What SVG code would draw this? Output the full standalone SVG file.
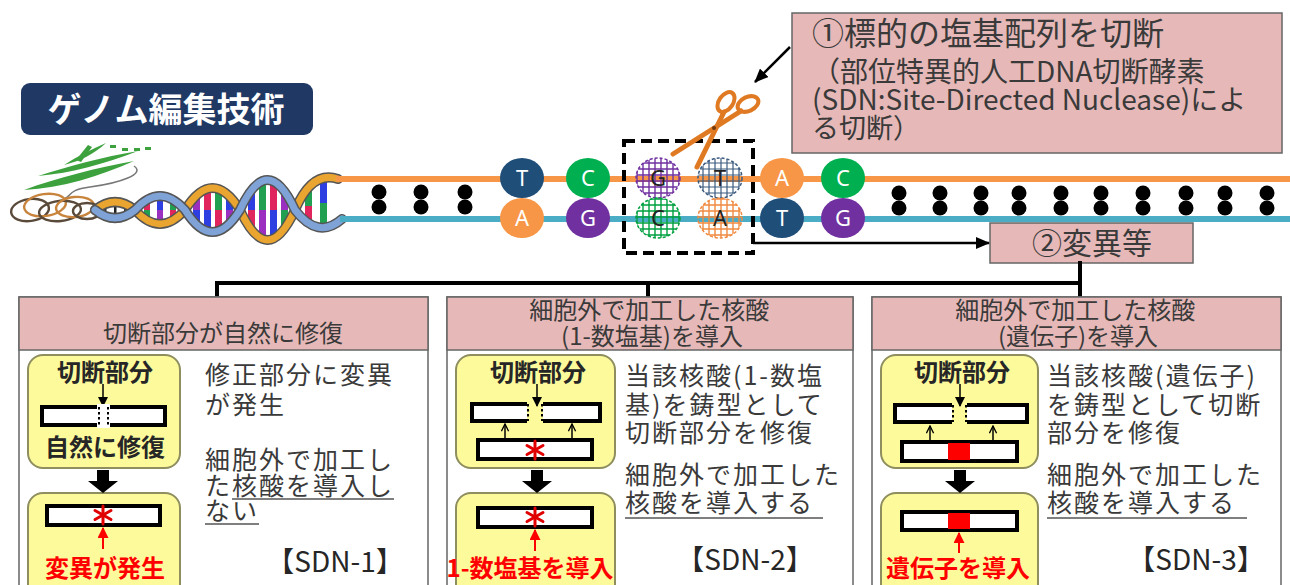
<svg xmlns="http://www.w3.org/2000/svg" width="1290" height="585" viewBox="0 0 1290 585">
  <style>
    .jp { font-family: "Noto Sans CJK JP", "Noto Sans", sans-serif; }
    .pink { fill: #E6B9B8; stroke: #666; stroke-width: 1.5; }
    .panel { fill: #fff; stroke: #666; stroke-width: 1.5; }
    .yel { fill: #FDFA9C; stroke: #8E8E5E; stroke-width: 2; }
    .bar { fill: #fff; stroke: #000; stroke-width: 4; }
    .body { font-size: 25px; letter-spacing: 2px; fill: #3a3a3a; }
    .hdr { font-size: 24px; fill: #3a3a3a; text-anchor: middle; }
    .lbl { font-size: 24px; font-weight: bold; fill: #262626; text-anchor: middle; }
    .redlbl { font-size: 24px; font-weight: bold; fill: #FF0000; text-anchor: middle; }
    .sdn { font-size: 28px; fill: #262626; text-anchor: middle; }
    .conn { stroke: #000; fill: none; }
    .ul { stroke: #555; stroke-width: 1.5; }
    .base { font-family: "Noto Sans", "Open Sans", sans-serif; font-size: 22px; text-anchor: middle; }
    .dot { fill: #000; }
    .ast line { stroke: #E00000; stroke-width: 3; stroke-linecap: round; }
    .thin { stroke: #000; stroke-width: 1.5; fill: none; }
    .dotted { stroke: #000; stroke-width: 2; stroke-dasharray: 2.5 2.5; }
  </style>
  <defs>
    <marker id="ah" viewBox="0 0 14 12" refX="13" refY="6" markerWidth="14" markerHeight="12" markerUnits="userSpaceOnUse" orient="auto">
      <path d="M0,0 L14,6 L0,12 Z" fill="#000"/>
    </marker>
    <marker id="ahs" viewBox="0 0 10 10" refX="9" refY="5" markerWidth="10" markerHeight="10" markerUnits="userSpaceOnUse" orient="auto">
      <path d="M0,0 L10,5 L0,10 Z" fill="#000"/>
    </marker>
    <marker id="aho" viewBox="0 0 10 10" refX="9" refY="5" markerWidth="9" markerHeight="9" markerUnits="userSpaceOnUse" orient="auto">
      <path d="M1,1 L9,5 L1,9" fill="none" stroke="#000" stroke-width="1.5"/>
    </marker>
    <marker id="ahr" viewBox="0 0 10 10" refX="9" refY="5" markerWidth="11" markerHeight="11" markerUnits="userSpaceOnUse" orient="auto">
      <path d="M0,0 L10,5 L0,10 Z" fill="#FF0000"/>
    </marker>
    <pattern id="gridPurple" width="6" height="6" patternUnits="userSpaceOnUse">
      <path d="M0,1 H6 M1,0 V6" stroke="#7030A0" stroke-width="1.4"/>
    </pattern>
    <pattern id="gridNavy" width="6" height="6" patternUnits="userSpaceOnUse">
      <path d="M0,1 H6 M1,0 V6" stroke="#3A5A80" stroke-width="1.2"/>
    </pattern>
    <pattern id="gridGreen" width="6" height="6" patternUnits="userSpaceOnUse">
      <path d="M0,1 H6 M1,0 V6" stroke="#00A040" stroke-width="1.4"/>
    </pattern>
    <pattern id="gridOrange" width="6" height="6" patternUnits="userSpaceOnUse">
      <path d="M0,1 H6 M1,0 V6" stroke="#F08A40" stroke-width="1.4"/>
    </pattern>
    <g id="downArrow">
      <path d="M-6,0 H6 V11 H15 L0,23 L-15,11 H-6 Z" fill="#000"/>
    </g>
    <g id="asterisk" class="ast">
      <line x1="0" y1="-9" x2="0" y2="9"/>
      <line x1="-8" y1="-4.5" x2="8" y2="4.5"/>
      <line x1="-8" y1="4.5" x2="8" y2="-4.5"/>
    </g>
  </defs>

  <rect width="1290" height="585" fill="#fff"/>

  <!-- Title badge -->
  <g id="title">
    <rect x="21" y="83" width="292" height="52" rx="9" fill="#203864"/>
    <text x="166" y="122" class="jp" font-size="34" font-weight="bold" fill="#fff" text-anchor="middle">ゲノム編集技術</text>
  </g>

  <!-- Plant, chromosome coil and double helix -->
  <g id="dna-illustration">
    <g fill="#3DA23D">
      <path d="M24,190 C56,178 96,168 134,161 C100,176 62,188 24,190 Z"/>
      <path d="M38,176 C70,166 102,157 138,151 C104,164 72,173 38,176 Z"/>
      <path d="M64,165 C78,156 92,149 106,143 C94,154 80,161 64,165 Z"/>
      <path d="M76,160 L88,145 L92,147 L81,162 Z"/>
      <rect x="110" y="145" width="6" height="3"/>
      <rect x="122" y="148" width="6" height="3"/>
      <rect x="134" y="148" width="6" height="3"/>
      <rect x="145" y="147" width="6" height="3"/>
    </g>
    <path d="M134,166 C146,174 120,183 90,187 C64,190 74,198 58,201" fill="none" stroke="#777" stroke-width="1.5"/>
    <g fill="none" stroke-width="2.4">
      <ellipse cx="30" cy="210" rx="19" ry="11" stroke="#5a4a3a" transform="rotate(-8 30 210)"/>
      <ellipse cx="45" cy="205" rx="21" ry="11" stroke="#C8843C" transform="rotate(-8 45 205)"/>
      <ellipse cx="60" cy="211" rx="21" ry="10" stroke="#5a4a3a" transform="rotate(-6 60 211)"/>
      <ellipse cx="75" cy="207" rx="19" ry="10" stroke="#C8843C" transform="rotate(-6 75 207)"/>
      <ellipse cx="87" cy="211" rx="14" ry="8" stroke="#5a4a3a"/>
    </g>
    <!-- base pairs -->
    <g>
      <rect x="104" y="204" width="2.5" height="12" fill="#222"/>
      <rect x="114" y="202" width="2.5" height="16" fill="#222"/>
      <rect x="124" y="204" width="2.5" height="12" fill="#222"/>
      <rect x="144" y="200" width="6" height="10" fill="#E0245E"/><rect x="144" y="210" width="6" height="10" fill="#20A050"/>
      <rect x="157" y="196" width="6" height="14" fill="#2D3FE0"/><rect x="157" y="210" width="6" height="14" fill="#9B30C0"/>
      <rect x="170" y="200" width="6" height="10" fill="#20A050"/><rect x="170" y="210" width="6" height="10" fill="#E0245E"/>
      <rect x="193" y="196" width="7" height="14" fill="#9B30C0"/><rect x="193" y="210" width="7" height="14" fill="#2D3FE0"/>
      <rect x="204" y="189" width="7" height="21" fill="#E0245E"/><rect x="204" y="210" width="7" height="21" fill="#2D3FE0"/>
      <rect x="215" y="189" width="7" height="21" fill="#20A050"/><rect x="215" y="210" width="7" height="21" fill="#E0245E"/>
      <rect x="226" y="196" width="7" height="14" fill="#2D3FE0"/><rect x="226" y="210" width="7" height="14" fill="#9B30C0"/>
      <rect x="248" y="191" width="7" height="19" fill="#2D3FE0"/><rect x="248" y="210" width="7" height="19" fill="#E0245E"/>
      <rect x="259" y="181" width="7" height="29" fill="#20A050"/><rect x="259" y="210" width="7" height="29" fill="#9B30C0"/>
      <rect x="270" y="181" width="7" height="29" fill="#E0245E"/><rect x="270" y="210" width="7" height="29" fill="#2D3FE0"/>
      <rect x="281" y="191" width="7" height="19" fill="#9B30C0"/><rect x="281" y="210" width="7" height="19" fill="#20A050"/>
      <rect x="305" y="189" width="7" height="17" fill="#20A050"/><rect x="305" y="206" width="7" height="18" fill="#E0245E"/>
      <rect x="320" y="179" width="7" height="24" fill="#2D3FE0"/><rect x="320" y="203" width="7" height="24" fill="#20A050"/>
    </g>
    <g fill="none" stroke-linecap="round">
      <path d="M95,210 Q115,194 135,210 Q160,238 185,210 Q212.5,166 240,210 Q267.5,270 295,210 Q312,170 338,179" stroke="#555" stroke-width="10"/>
      <path d="M95,210 Q115,194 135,210 Q160,238 185,210 Q212.5,166 240,210 Q267.5,270 295,210 Q312,170 338,179" stroke="#E9A530" stroke-width="7"/>
      <path d="M95,210 Q115,226 135,210 Q160,182 185,210 Q212.5,254 240,210 Q267.5,150 295,210 Q318,240 342,219" stroke="#555" stroke-width="10"/>
      <path d="M95,210 Q115,226 135,210 Q160,182 185,210 Q212.5,254 240,210 Q267.5,150 295,210 Q318,240 342,219" stroke="#7FA3D6" stroke-width="7"/>
    </g>
  </g>

  <!-- DNA strands with bases -->
  <g id="strands">
    <line x1="336" y1="179" x2="1290" y2="179" stroke="#F79646" stroke-width="6"/>
    <line x1="340" y1="219" x2="1290" y2="219" stroke="#4BACC6" stroke-width="6"/>
    <g class="dot">
      <circle cx="379" cy="192" r="7.5"/><circle cx="379" cy="207" r="7.5"/>
      <circle cx="421" cy="192" r="7.5"/><circle cx="421" cy="207" r="7.5"/>
      <circle cx="465" cy="192" r="7.5"/><circle cx="465" cy="207" r="7.5"/>
      <circle cx="899" cy="193" r="7.5"/><circle cx="899" cy="208" r="7.5"/>
      <circle cx="940" cy="193" r="7.5"/><circle cx="940" cy="208" r="7.5"/>
      <circle cx="981" cy="193" r="7.5"/><circle cx="981" cy="208" r="7.5"/>
      <circle cx="1019" cy="193" r="7.5"/><circle cx="1019" cy="208" r="7.5"/>
      <circle cx="1061" cy="193" r="7.5"/><circle cx="1061" cy="208" r="7.5"/>
      <circle cx="1101" cy="193" r="7.5"/><circle cx="1101" cy="208" r="7.5"/>
      <circle cx="1143" cy="193" r="7.5"/><circle cx="1143" cy="208" r="7.5"/>
      <circle cx="1186" cy="193" r="7.5"/><circle cx="1186" cy="208" r="7.5"/>
      <circle cx="1225" cy="193" r="7.5"/><circle cx="1225" cy="208" r="7.5"/>
      <circle cx="1267" cy="193" r="7.5"/><circle cx="1267" cy="208" r="7.5"/>
    </g>
  </g>

  <g id="base-T1"><ellipse cx="522" cy="178" rx="22" ry="20" fill="#1F4E79"/><text x="522" y="186" class="base" fill="#fff">T</text></g>
  <g id="base-C1"><ellipse cx="588" cy="178" rx="22" ry="20" fill="#00B050"/><text x="588" y="186" class="base" fill="#fff">C</text></g>
  <g id="base-G1"><ellipse cx="658" cy="178" rx="22" ry="20" fill="url(#gridPurple)" stroke="#7030A0" stroke-width="1.5" stroke-dasharray="3 2"/><text x="658" y="186" class="base" fill="#222">G</text></g>
  <g id="base-T2"><ellipse cx="720" cy="178" rx="22" ry="20" fill="url(#gridNavy)" stroke="#3A5A80" stroke-width="1.5" stroke-dasharray="3 2"/><text x="720" y="186" class="base" fill="#222">T</text></g>
  <g id="base-A1"><ellipse cx="782" cy="178" rx="22" ry="20" fill="#F79646"/><text x="782" y="186" class="base" fill="#fff">A</text></g>
  <g id="base-C2"><ellipse cx="843" cy="178" rx="22" ry="20" fill="#00B050"/><text x="843" y="186" class="base" fill="#fff">C</text></g>
  <g id="base-A2"><ellipse cx="522" cy="218" rx="22" ry="20" fill="#F79646"/><text x="522" y="226" class="base" fill="#fff">A</text></g>
  <g id="base-G2"><ellipse cx="588" cy="218" rx="22" ry="20" fill="#7030A0"/><text x="588" y="226" class="base" fill="#fff">G</text></g>
  <g id="base-C3"><ellipse cx="658" cy="218" rx="22" ry="20" fill="url(#gridGreen)" stroke="#00A040" stroke-width="1.5" stroke-dasharray="3 2"/><text x="658" y="226" class="base" fill="#222">C</text></g>
  <g id="base-A3"><ellipse cx="720" cy="218" rx="22" ry="20" fill="url(#gridOrange)" stroke="#F08A40" stroke-width="1.5" stroke-dasharray="3 2"/><text x="720" y="226" class="base" fill="#222">A</text></g>
  <g id="base-T3"><ellipse cx="782" cy="218" rx="22" ry="20" fill="#1F4E79"/><text x="782" y="226" class="base" fill="#fff">T</text></g>
  <g id="base-G3"><ellipse cx="843" cy="218" rx="22" ry="20" fill="#7030A0"/><text x="843" y="226" class="base" fill="#fff">G</text></g>

  <!-- Target site -->
  <g id="target-site">
    <rect x="624" y="141" width="129" height="112" fill="none" stroke="#000" stroke-width="4" stroke-dasharray="11 6"/>
  </g>

  <!-- Scissors (nuclease) -->
  <g id="scissors" stroke="#E07A22" fill="none" stroke-linecap="round">
    <ellipse cx="726" cy="102" rx="11" ry="7" stroke-width="4" transform="rotate(-55 726 102)"/>
    <ellipse cx="748" cy="104" rx="11" ry="7" stroke-width="4" transform="rotate(-25 748 104)"/>
    <line x1="741" y1="111" x2="673" y2="154" stroke-width="5"/>
    <line x1="724" y1="112" x2="697" y2="167" stroke-width="5"/>
    <circle cx="714" cy="128" r="2" fill="#6b3a10" stroke="none"/>
  </g>

  <!-- Callouts -->
  <g id="callout-cut">
    <rect x="792" y="13" width="490" height="140" class="pink" stroke-width="2"/>
    <text class="jp" fill="#3a3a3a">
      <tspan x="812" y="45" font-size="32">①標的の塩基配列を切断</tspan>
      <tspan x="812" y="82" font-size="28">（部位特異的人工DNA切断酵素</tspan>
      <tspan x="812" y="110" font-size="28">(SDN:Site-Directed Nuclease)によ</tspan>
      <tspan x="812" y="138" font-size="27">る切断）</tspan>
    </text>
  </g>
  <g id="callout-mutation">
    <rect x="990" y="223" width="203" height="40" class="pink" stroke-width="2"/>
    <text x="1092" y="254" class="jp" font-size="30" fill="#3a3a3a" text-anchor="middle">②変異等</text>
  </g>

  <!-- Connectors -->
  <g id="connectors" class="conn">
    <line x1="790" y1="47" x2="755" y2="82" stroke-width="2.5" marker-end="url(#ah)"/>
    <line x1="753" y1="243" x2="989" y2="243" stroke-width="2.5" marker-end="url(#ah)"/>
    <path d="M1080,263 V297 M217,283 H1080 M217,283 V297 M648,283 V297" stroke-width="4" stroke-linecap="square"/>
  </g>

  <!-- SDN-1 -->
  <g id="panel-sdn1" class="jp">
    <rect x="19" y="297" width="409" height="300" class="panel"/>
    <rect x="19" y="297" width="409" height="53" class="pink"/>
    <text x="223" y="342" class="hdr" font-size="25">切断部分が自然に修復</text>
    <rect x="28" y="355" width="152" height="113" rx="15" class="yel"/>
    <rect x="28" y="493" width="152" height="110" rx="15" class="yel"/>
    <text x="105" y="381" class="lbl">切断部分</text>
    <line x1="103" y1="384" x2="103" y2="406" class="thin" marker-end="url(#ahs)"/>
    <rect x="42" y="407" width="123" height="18" class="bar"/>
    <rect x="97" y="404" width="13" height="24" fill="#fff"/>
    <line x1="99" y1="407" x2="99" y2="425" class="dotted"/>
    <line x1="108" y1="407" x2="108" y2="425" class="dotted"/>
    <text x="105" y="456" class="lbl">自然に修復</text>
    <use href="#downArrow" x="103" y="470"/>
    <rect x="47" y="506" width="113" height="19" class="bar"/>
    <use href="#asterisk" x="103" y="515"/>
    <line x1="103" y1="549" x2="103" y2="528" stroke="#FF0000" stroke-width="2" marker-end="url(#ahr)"/>
    <text x="105" y="577" class="redlbl">変異が発生</text>
    <text class="body">
      <tspan x="205" y="384">修正部分に変異</tspan>
      <tspan x="205" y="414">が発生</tspan>
      <tspan x="205" y="469">細胞外で加工し</tspan>
      <tspan x="205" y="495">た核酸を導入し</tspan>
      <tspan x="205" y="520">ない</tspan>
    </text>
    <line x1="232" y1="499" x2="394" y2="499" class="ul"/>
    <line x1="205" y1="524" x2="259" y2="524" class="ul"/>
    <text x="335" y="572" class="sdn">【SDN-1】</text>
  </g>

  <!-- SDN-2 -->
  <g id="panel-sdn2" class="jp">
    <rect x="447" y="297" width="406" height="300" class="panel"/>
    <rect x="447" y="297" width="406" height="53" class="pink"/>
    <text class="hdr">
      <tspan x="652" y="319">細胞外で加工した核酸</tspan>
      <tspan x="652" y="345">(1-数塩基)を導入</tspan>
    </text>
    <rect x="456" y="355" width="159" height="113" rx="15" class="yel"/>
    <rect x="456" y="493" width="159" height="110" rx="15" class="yel"/>
    <text x="538" y="381" class="lbl">切断部分</text>
    <line x1="537" y1="384" x2="537" y2="406" class="thin" marker-end="url(#ahs)"/>
    <rect x="472" y="404" width="55" height="17" fill="#fff"/>
    <path d="M527,404 H472 V421 H527" fill="none" stroke="#000" stroke-width="4"/>
    <line x1="528" y1="404" x2="528" y2="421" class="dotted"/>
    <rect x="543" y="404" width="57" height="17" fill="#fff"/>
    <path d="M543,404 H600 V421 H543" fill="none" stroke="#000" stroke-width="4"/>
    <line x1="542" y1="404" x2="542" y2="421" class="dotted"/>
    <line x1="505" y1="439" x2="505" y2="424" class="thin" marker-end="url(#aho)"/>
    <line x1="572" y1="439" x2="572" y2="424" class="thin" marker-end="url(#aho)"/>
    <rect x="478" y="440" width="114" height="19" class="bar"/>
    <use href="#asterisk" x="535" y="450"/>
    <use href="#downArrow" x="537" y="470"/>
    <rect x="478" y="508" width="114" height="19" class="bar"/>
    <use href="#asterisk" x="535" y="517"/>
    <line x1="535" y1="551" x2="535" y2="530" stroke="#FF0000" stroke-width="2" marker-end="url(#ahr)"/>
    <text x="530" y="577" class="redlbl">1-数塩基を導入</text>
    <text class="body">
      <tspan x="625" y="385">当該核酸(1-数塩</tspan>
      <tspan x="625" y="414">基)を鋳型として</tspan>
      <tspan x="625" y="442">切断部分を修復</tspan>
      <tspan x="625" y="484">細胞外で加工した</tspan>
      <tspan x="625" y="512">核酸を導入する</tspan>
    </text>
    <line x1="625" y1="518" x2="823" y2="518" class="ul"/>
    <text x="745" y="570" class="sdn">【SDN-2】</text>
  </g>

  <!-- SDN-3 -->
  <g id="panel-sdn3" class="jp">
    <rect x="872" y="297" width="409" height="300" class="panel"/>
    <rect x="872" y="297" width="409" height="53" class="pink"/>
    <text class="hdr">
      <tspan x="1078" y="319">細胞外で加工した核酸</tspan>
      <tspan x="1078" y="345">(遺伝子)を導入</tspan>
    </text>
    <rect x="881" y="355" width="157" height="113" rx="15" class="yel"/>
    <rect x="881" y="493" width="157" height="110" rx="15" class="yel"/>
    <text x="962" y="381" class="lbl">切断部分</text>
    <line x1="960" y1="384" x2="960" y2="406" class="thin" marker-end="url(#ahs)"/>
    <rect x="895" y="405" width="57" height="17" fill="#fff"/>
    <path d="M952,405 H895 V422 H952" fill="none" stroke="#000" stroke-width="4"/>
    <line x1="953" y1="405" x2="953" y2="422" class="dotted"/>
    <rect x="967" y="405" width="60" height="17" fill="#fff"/>
    <path d="M967,405 H1027 V422 H967" fill="none" stroke="#000" stroke-width="4"/>
    <line x1="966" y1="405" x2="966" y2="422" class="dotted"/>
    <line x1="930" y1="441" x2="930" y2="426" class="thin" marker-end="url(#aho)"/>
    <line x1="993" y1="441" x2="993" y2="426" class="thin" marker-end="url(#aho)"/>
    <rect x="902" y="442" width="115" height="19" class="bar"/>
    <rect x="948" y="443" width="22" height="17" fill="#FF0000"/>
    <use href="#downArrow" x="960" y="470"/>
    <rect x="902" y="512" width="115" height="18" class="bar"/>
    <rect x="948" y="513" width="22" height="16" fill="#FF0000"/>
    <line x1="959" y1="553" x2="959" y2="533" stroke="#FF0000" stroke-width="2" marker-end="url(#ahr)"/>
    <text x="958" y="577" class="redlbl">遺伝子を導入</text>
    <text class="body">
      <tspan x="1047" y="385">当該核酸(遺伝子)</tspan>
      <tspan x="1047" y="414">を鋳型として切断</tspan>
      <tspan x="1047" y="442">部分を修復</tspan>
      <tspan x="1047" y="484">細胞外で加工した</tspan>
      <tspan x="1047" y="512">核酸を導入する</tspan>
    </text>
    <line x1="1047" y1="518" x2="1247" y2="518" class="ul"/>
    <text x="1196" y="570" class="sdn">【SDN-3】</text>
  </g>
</svg>
